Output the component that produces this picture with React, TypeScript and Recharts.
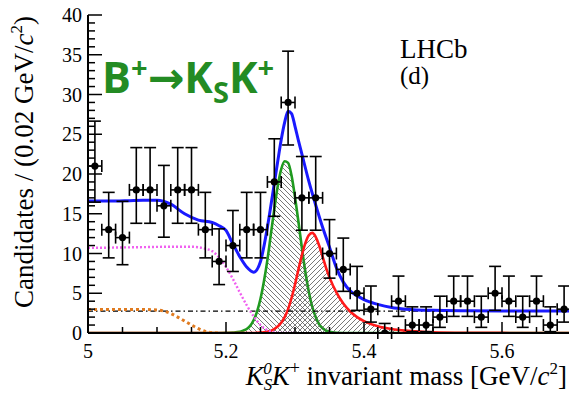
import React from "react";
import { Area, ComposedChart, ErrorBar, Line, Scatter, XAxis, YAxis } from "recharts";

// measured candidates per 0.02 GeV/c^2 bin
const BIN_CENTERS = [
  5.01, 5.03, 5.05, 5.07, 5.09, 5.11, 5.13, 5.15, 5.17, 5.19, 5.21, 5.23, 5.25, 5.27, 5.29, 5.31, 5.33, 5.35,
  5.37, 5.39, 5.41, 5.43, 5.45, 5.47, 5.49, 5.51, 5.53, 5.55, 5.57, 5.59, 5.61, 5.63, 5.65, 5.67, 5.69,
];
const COUNTS = [21, 13, 12, 18, 18, 16, 18, 18, 13, 9, 11, 13, 13, 19, 29, 17, 17, 10, 8, 5, 3, 0, 4, 1, 1, 2, 4, 4, 2, 5, 4, 2, 4, 1, 3];
const ERR_LOW = [
  4.54, 3.55, 3.41, 4.2, 4.2, 3.95, 4.2, 4.2, 3.55, 2.91, 3.26, 3.55, 3.55, 4.32, 5.35, 4.07, 4.07, 3.1, 2.76, 2.15,
  1.63, 0, 1.91, 0.83, 0.83, 1.29, 1.91, 1.91, 1.29, 2.15, 1.91, 1.29, 1.91, 0.83, 1.63,
];
const ERR_HIGH = [
  5.65, 4.69, 4.56, 5.32, 5.32, 5.08, 5.32, 5.32, 4.69, 4.1, 4.41, 4.69, 4.69, 5.43, 6.45, 5.2, 5.2, 4.26, 3.94, 3.38,
  2.91, 1.2, 3.16, 2.29, 2.29, 2.63, 3.16, 3.16, 2.63, 3.38, 3.16, 2.63, 3.16, 2.29, 2.91,
];
const BIN_HALF_WIDTH = 0.01;

// fit components
const TOTAL_X = [
  5.0, 5.02, 5.04, 5.06, 5.08, 5.1, 5.12, 5.14, 5.16, 5.18, 5.19, 5.2, 5.21, 5.22, 5.23, 5.24, 5.25, 5.26, 5.265, 5.27,
  5.275, 5.28, 5.285, 5.29, 5.295, 5.3, 5.305, 5.31, 5.32, 5.33, 5.34, 5.35, 5.36, 5.37, 5.38, 5.39, 5.4, 5.42, 5.44,
  5.46, 5.5, 5.55, 5.6, 5.7,
];
const TOTAL_Y = [
  16.6, 16.6, 16.6, 16.65, 16.7, 16.7, 16.2, 15.0, 14.2, 13.9, 13.5, 12.9, 11.2, 9.6, 8.3, 7.65, 9.0, 13.3, 16.0, 18.8,
  21.6, 24.3, 26.5, 27.9, 27.6, 26.0, 24.2, 22.5, 19.1, 16.1, 13.3, 10.8, 8.2, 6.4, 5.3, 4.7, 4.2, 3.6, 3.2, 3.0, 2.85,
  2.8, 2.78, 2.78,
];

const SIGNAL_X = [
  5.0, 5.18, 5.2, 5.21, 5.22, 5.225, 5.23, 5.235, 5.24, 5.245, 5.25, 5.255, 5.26, 5.265, 5.27, 5.275, 5.28, 5.285, 5.29,
  5.295, 5.3, 5.305, 5.31, 5.315, 5.32, 5.325, 5.33, 5.335, 5.34, 5.35, 5.36, 5.38, 5.7,
];
const SIGNAL_Y = [
  0, 0, 0.03, 0.06, 0.15, 0.3, 0.5, 0.9, 1.6, 2.7, 4.3, 6.5, 9.2, 12.4, 15.6, 18.5, 20.6, 21.6, 21.4, 19.8, 17.1, 14.0,
  10.7, 7.7, 5.2, 3.3, 2.0, 1.1, 0.6, 0.15, 0.04, 0, 0,
];

const MISID_X = [
  5.0, 5.24, 5.25, 5.26, 5.27, 5.28, 5.285, 5.29, 5.295, 5.3, 5.305, 5.31, 5.315, 5.32, 5.325, 5.33, 5.335, 5.34, 5.345,
  5.35, 5.36, 5.37, 5.38, 5.39, 5.4, 5.42, 5.44, 5.46, 5.48, 5.5, 5.55, 5.6, 5.7,
];
const MISID_Y = [
  0, 0, 0.05, 0.15, 0.5, 1.3, 2.0, 3.0, 4.4, 6.1, 8.0, 9.8, 11.3, 12.3, 12.6, 12.1, 11.0, 9.6, 8.2, 7.0, 5.1, 3.7, 2.7,
  2.0, 1.5, 0.85, 0.5, 0.3, 0.18, 0.1, 0.03, 0.01, 0,
];

const PARTREC_X = [5.0, 5.04, 5.08, 5.12, 5.15, 5.17, 5.18, 5.19, 5.2, 5.21, 5.22, 5.23, 5.24, 5.25, 5.26, 5.27, 5.28, 5.3];
const PARTREC_Y = [10.7, 10.75, 10.8, 10.85, 10.85, 10.6, 10.3, 9.5, 8.3, 6.8, 5.1, 3.5, 2.1, 1.0, 0.35, 0.08, 0, 0];

const LOWMASS_X = [5.0, 5.04, 5.08, 5.1, 5.11, 5.12, 5.13, 5.14, 5.15, 5.16, 5.17, 5.18, 5.19];
const LOWMASS_Y = [2.95, 2.95, 2.95, 2.9, 2.75, 2.45, 2.0, 1.5, 1.0, 0.55, 0.2, 0.05, 0];

const COMB_X = [5.0, 5.7];
const COMB_Y = [2.75, 2.75];

// axes
const X_TICKS = [5, 5.05, 5.1, 5.15, 5.2, 5.25, 5.3, 5.35, 5.4, 5.45, 5.5, 5.55, 5.6, 5.65, 5.7];
const X_LABELS = ["5", "", "", "", "5.2", "", "", "", "5.4", "", "", "", "5.6", "", ""];
const Y_TICKS = [
  0, 1, 2, 3, 4, 5, 6, 7, 8, 9, 10, 11, 12, 13, 14, 15, 16, 17, 18, 19, 20, 21, 22, 23, 24, 25, 26, 27, 28, 29, 30, 31,
  32, 33, 34, 35, 36, 37, 38, 39, 40,
];
const Y_LABELS = ["0", "5", "10", "15", "20", "25", "30", "35", "40"];

const SERIF = "'Liberation Serif', 'Times New Roman', serif";

const toXY = (xs: number[], ys: number[]) => xs.map((x, i) => ({ x, y: ys[i] }));

const points = BIN_CENTERS.map((x, i) => ({
  x,
  y: COUNTS[i],
  ey: [ERR_LOW[i], ERR_HIGH[i]],
  ex: BIN_HALF_WIDTH,
}));

function BottomTick(props: any) {
  const { x, y, payload } = props;
  const label = X_LABELS[X_TICKS.indexOf(payload.value)];
  const len = label ? 11 : 6;
  return (
    <g>
      <line x1={x} x2={x} y1={y} y2={y - len} stroke="#000" strokeWidth={1.5} />
      {label ? (
        <text x={x} y={y + 25} textAnchor="middle" fontFamily={SERIF} fontSize={20} fill="#000">
          {label}
        </text>
      ) : null}
    </g>
  );
}

function TopTick(props: any) {
  const { x, y, payload } = props;
  const len = X_LABELS[X_TICKS.indexOf(payload.value)] ? 11 : 6;
  return <line x1={x} x2={x} y1={y} y2={y + len} stroke="#000" strokeWidth={1.5} />;
}

function LeftTick(props: any) {
  const { x, y, payload } = props;
  const major = payload.value % 5 === 0;
  return (
    <g>
      <line x1={x} x2={x + (major ? 14 : 7)} y1={y} y2={y} stroke="#000" strokeWidth={1.5} />
      {major ? (
        <text x={x - 6} y={y + 7} textAnchor="end" fontFamily={SERIF} fontSize={20} fill="#000">
          {Y_LABELS[payload.value / 5]}
        </text>
      ) : null}
    </g>
  );
}

function RightTick(props: any) {
  const { x, y, payload } = props;
  const major = payload.value % 5 === 0;
  return <line x1={x} x2={x - (major ? 14 : 7)} y1={y} y2={y} stroke="#000" strokeWidth={1.5} />;
}

const dot = (p: any) => <circle cx={p.cx} cy={p.cy} r={3.6} fill="#000" />;

export default function App() {
  return (
    <div style={{ position: "relative", width: 569, height: 395, overflow: "hidden", background: "#fff" }}>
      <style>{"body{margin:0}"}</style>
      <ComposedChart width={580} height={395} margin={{ top: 15, right: 9, bottom: 0, left: 0 }}>
        <defs>
          <pattern id="hatchBack" patternUnits="userSpaceOnUse" width={5} height={5}>
            <path d="M-1,-1 L6,6 M-1,4 L1,6 M4,-1 L6,1" stroke="#555" strokeWidth={0.8} />
          </pattern>
          <pattern id="hatchFwd" patternUnits="userSpaceOnUse" width={5} height={5}>
            <path d="M-1,6 L6,-1 M-1,1 L1,-1 M4,6 L6,4" stroke="#555" strokeWidth={0.8} />
          </pattern>
        </defs>
        <XAxis
          dataKey="x"
          type="number"
          domain={[5, 5.7]}
          allowDataOverflow
          ticks={X_TICKS}
          interval={0}
          height={62}
          tickSize={0}
          tickMargin={0}
          tickLine={false}
          axisLine={{ stroke: "#000", strokeWidth: 2 }}
          tick={(p: any) => <BottomTick {...p} />}
        />
        <XAxis
          xAxisId="top"
          orientation="top"
          dataKey="x"
          type="number"
          domain={[5, 5.7]}
          allowDataOverflow
          ticks={X_TICKS}
          interval={0}
          height={0}
          tickSize={0}
          tickMargin={0}
          tickLine={false}
          axisLine={{ stroke: "#000", strokeWidth: 2 }}
          tick={(p: any) => <TopTick {...p} />}
        />
        <YAxis
          type="number"
          domain={[0, 40]}
          allowDataOverflow
          ticks={Y_TICKS}
          interval={0}
          width={88}
          tickSize={0}
          tickMargin={0}
          tickLine={false}
          axisLine={{ stroke: "#000", strokeWidth: 2 }}
          tick={(p: any) => <LeftTick {...p} />}
        />
        <YAxis
          yAxisId="right"
          orientation="right"
          type="number"
          domain={[0, 40]}
          allowDataOverflow
          ticks={Y_TICKS}
          interval={0}
          width={0}
          tickSize={0}
          tickMargin={0}
          tickLine={false}
          axisLine={{ stroke: "#000", strokeWidth: 2 }}
          tick={(p: any) => <RightTick {...p} />}
        />

        <Area
          data={toXY(SIGNAL_X, SIGNAL_Y)}
          dataKey="y"
          type="monotone"
          baseValue={0}
          stroke="#1f9a1f"
          strokeWidth={2.6}
          fill="url(#hatchBack)"
          fillOpacity={1}
          isAnimationActive={false}
        />
        <Area
          data={toXY(MISID_X, MISID_Y)}
          dataKey="y"
          type="monotone"
          baseValue={0}
          stroke="#ff1a1a"
          strokeWidth={2.6}
          fill="url(#hatchFwd)"
          fillOpacity={1}
          isAnimationActive={false}
        />
        <Line
          data={toXY(COMB_X, COMB_Y)}
          dataKey="y"
          type="linear"
          stroke="#000"
          strokeWidth={1.3}
          strokeDasharray="5 3 1.5 3"
          dot={false}
          isAnimationActive={false}
        />
        <Line
          data={toXY(PARTREC_X, PARTREC_Y)}
          dataKey="y"
          type="monotone"
          stroke="#f060f0"
          strokeWidth={2.4}
          strokeDasharray="2 2"
          dot={false}
          isAnimationActive={false}
        />
        <Line
          data={toXY(LOWMASS_X, LOWMASS_Y)}
          dataKey="y"
          type="monotone"
          stroke="#e07b20"
          strokeWidth={3}
          strokeDasharray="3 3"
          dot={false}
          isAnimationActive={false}
        />
        <Line
          data={toXY(TOTAL_X, TOTAL_Y)}
          dataKey="y"
          type="monotone"
          stroke="#1a1aff"
          strokeWidth={3}
          dot={false}
          isAnimationActive={false}
        />
        <Scatter data={points} dataKey="y" shape={dot} isAnimationActive={false}>
          <ErrorBar dataKey="ey" direction="y" width={6} stroke="#000" strokeWidth={1.6} isAnimationActive={false} />
          <ErrorBar dataKey="ex" direction="x" width={6} stroke="#000" strokeWidth={1.6} isAnimationActive={false} />
        </Scatter>
      </ComposedChart>

      <svg width={569} height={395} style={{ position: "absolute", left: 0, top: 0, pointerEvents: "none" }}>
        <text transform="translate(33,16) rotate(-90)" textAnchor="end" fontFamily={SERIF} fontSize={27} fill="#000">
          Candidates / (0.02 GeV/
          <tspan fontStyle="italic">c</tspan>
          <tspan fontSize={17} dy={-11}>2</tspan>
          <tspan dy={11}>)</tspan>
        </text>
        <text x={567} y={385} textAnchor="end" fontFamily={SERIF} fontSize={27} fill="#000">
          <tspan fontStyle="italic">K</tspan>
          <tspan fontStyle="italic" fontSize={17} dy={5}>S</tspan>
          <tspan fontStyle="italic" fontSize={17} dx={-9} dy={-16}>0</tspan>
          <tspan fontStyle="italic" dy={11}>K</tspan>
          <tspan fontSize={18} dy={-11}>+</tspan>
          <tspan dy={11}> invariant mass [GeV/</tspan>
          <tspan fontStyle="italic">c</tspan>
          <tspan fontSize={17} dy={-11}>2</tspan>
          <tspan dy={11}>]</tspan>
        </text>
        <text x={400} y={58} fontFamily={SERIF} fontSize={27} fill="#000">
          LHCb
        </text>
        <text x={400} y={84} fontFamily={SERIF} fontSize={25} fill="#000">
          (d)
        </text>
        <text x={102} y={93} fontFamily="'Open Sans', sans-serif" fontWeight={700} fontSize={43} fill="#238b23">
          B
          <tspan fontSize={29} dy={-15}>+</tspan>
          <tspan dy={15} fontFamily="'DejaVu Sans', sans-serif" fontWeight={700} fontSize={44}>→</tspan>
          K
          <tspan fontSize={29} dy={10}>S</tspan>
          <tspan dy={-10}>K</tspan>
          <tspan fontSize={29} dy={-15}>+</tspan>
        </text>
      </svg>
    </div>
  );
}
